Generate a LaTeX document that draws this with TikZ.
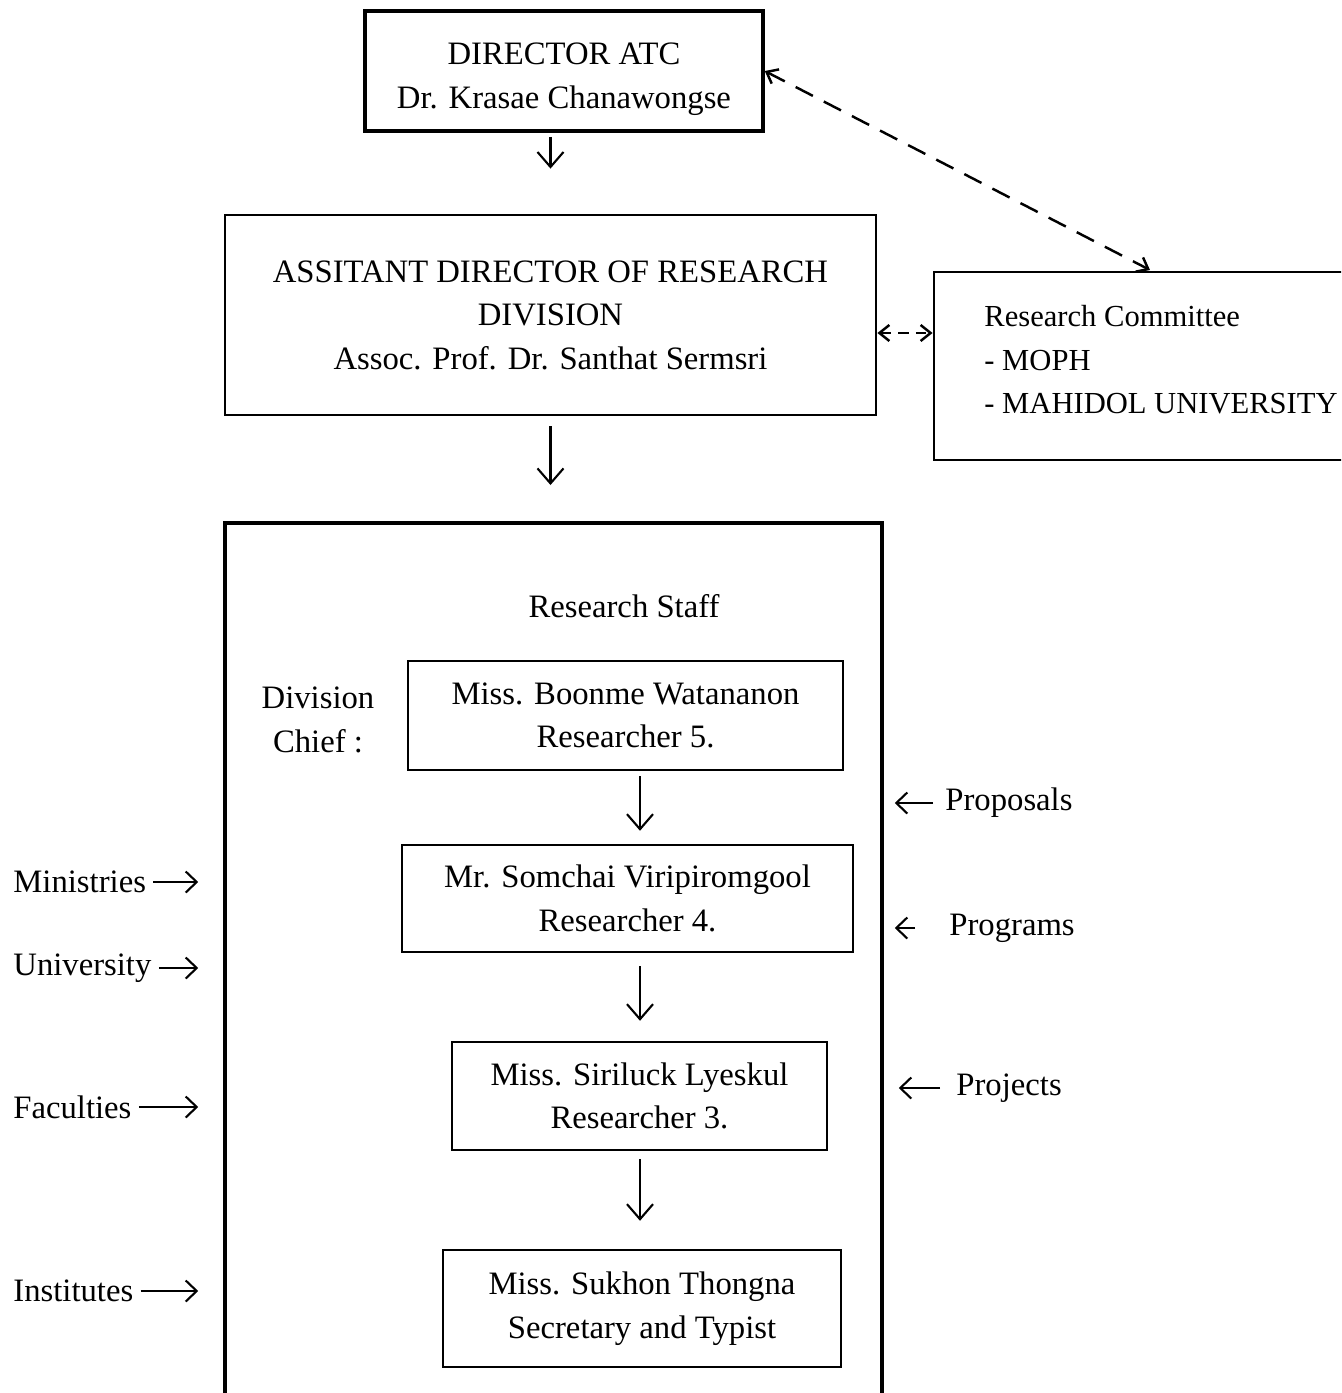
\documentclass[tikz,border=0pt]{standalone}
\usepackage{fontspec}
\setmainfont{Liberation Serif}
\usetikzlibrary{positioning,calc,arrows.meta}

\begin{document}
\begin{tikzpicture}[
    font=\fontsize{9.3}{12.4}\selectfont,
    box/.style={draw, line width=0.8pt, align=center, inner sep=0pt},
    arr/.style={-{Straight Barb[length=1.5mm,width=2.6mm]}, line width=0.6pt},
    larr/.style={-{Straight Barb[length=1.1mm,width=2.1mm]}, line width=0.6pt},
    darr/.style={{Straight Barb[length=1mm,width=1.6mm]}-{Straight Barb[length=1mm,width=1.6mm]}, dash pattern=on 5.5pt off 3.5pt, line width=0.7pt}
]
    \useasboundingbox (0,0) rectangle (13.41,-13.93);
    \clip (0,0) rectangle (13.41,-13.93);
    % Director and assistant director
    \node[box, line width=1pt, minimum width=3.98cm, minimum height=1.2cm] (dir) at (5.64,-0.71) {};
    \node[align=center] (dirtext) at (5.64,-0.79) {DIRECTOR ATC\\Dr. Krasae Chanawongse};
    \node[box, minimum width=6.51cm, minimum height=2cm] (assist) at (5.505,-3.15) {ASSITANT DIRECTOR OF RESEARCH\\DIVISION\\Assoc. Prof. Dr. Santhat Sermsri};
    \draw[arr, shorten <=0.4mm, shorten >=4.5mm] (dir.south -| assist.north) -- (assist.north);
    % Research committee
    \node[draw, line width=0.8pt, minimum width=4.66cm, minimum height=1.88cm] (rc) at (11.67,-3.66) {};
    \node[anchor=west, align=left, font=\fontsize{8.7}{12.4}\selectfont] (rctext) at (9.72,-3.60) {Research Committee\\- MOPH\\- MAHIDOL UNIVERSITY};
    \coordinate (rctop) at (11.50,-2.70);
    \coordinate (dmid) at (0,-3.33);
    \draw[darr] (dir.east) -- (rctop);
    \draw[darr, dash pattern=on 3pt off 2pt] (assist.east |- dmid) -- (rc.west |- dmid);
    % Research staff
    \node[draw, line width=1pt, minimum width=6.57cm, minimum height=9.5cm, anchor=north] (staff) at (5.535,-5.21) {};
    \draw[arr, shorten <=1mm, shorten >=3.6mm] (assist.south) -- (assist.south |- staff.north);
    \node (rstaff) at (6.24,-6.06) {Research Staff};
    \node[align=center] (chief) at (3.18,-7.20) {Division\\Chief :};
    \node[box, line width=0.7pt, minimum width=4.35cm, minimum height=1.09cm] (b5) at (6.255,-7.155) {Miss. Boonme Watananon\\Researcher 5.};
    \node[box, line width=0.7pt, minimum width=4.51cm, minimum height=1.07cm] (b4) at (6.275,-8.985) {Mr. Somchai Viripiromgool\\Researcher 4.};
    \node[box, line width=0.7pt, minimum width=3.75cm, minimum height=1.08cm] (b3) at (6.395,-10.96) {Miss. Siriluck Lyeskul\\Researcher 3.};
    \node[box, line width=0.7pt, minimum width=3.98cm, minimum height=1.17cm] (sec) at (6.42,-13.085) {Miss. Sukhon Thongna\\Secretary and Typist};
    \coordinate (ax) at (6.40,0);
    \draw[arr, shorten <=0.5mm, shorten >=1.3mm] (b5.south -| ax) -- (b4.north -| ax);
    \draw[arr, shorten <=1.3mm, shorten >=2mm] (b4.south -| ax) -- (b3.north -| ax);
    \draw[arr, shorten <=0.8mm, shorten >=2.8mm] (b3.south -| ax) -- (sec.north -| ax);
    % Inputs on the left
    \foreach \nm/\txt/\y in {min/Ministries/8.82, uni/University/9.68, fac/Faculties/11.07, ins/Institutes/12.91} {
        \node[anchor=west] (\nm) at (0.01,-\y) {\txt};
        \draw[larr, shorten <=-0.5mm, shorten >=2.5mm] (\nm.east) -- (staff.west |- \nm);
    }
    % Inputs on the right
    \node[anchor=west] (prop) at (9.33,-8.03) {Proposals};
    \node[anchor=west] (prog) at (9.37,-9.28) {Programs};
    \node[anchor=west] (proj) at (9.44,-10.88) {Projects};
    \draw[larr, shorten >=1.1mm] (prop.west) -- (staff.east |- prop);
    \draw[larr, shorten <=2.2mm, shorten >=1.1mm] (prog.west) -- (staff.east |- prog);
    \draw[larr, shorten <=0.4mm, shorten >=1.5mm] (proj.west) -- (staff.east |- proj);
\end{tikzpicture}
\end{document}
